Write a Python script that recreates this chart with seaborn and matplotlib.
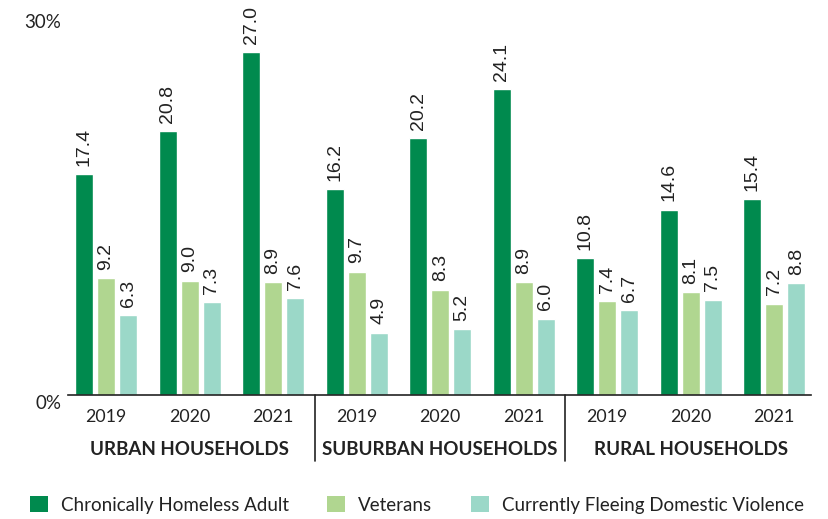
import pandas as pd
import numpy as np
import matplotlib.pyplot as plt
import seaborn as sns
from matplotlib.patches import Patch

# ── Datos ────────────────────────────────────────────────────
grupos = ["URBAN HOUSEHOLDS", "SUBURBAN HOUSEHOLDS", "RURAL HOUSEHOLDS"]
anios = ["2019", "2020", "2021"]
series = ["Chronically Homeless Adult", "Veterans", "Currently Fleeing Domestic Violence"]

cronicos = [17.4, 20.8, 27.0, 16.2, 20.2, 24.1, 10.8, 14.6, 15.4]
veteranos = [9.2, 9.0, 8.9, 9.7, 8.3, 8.9, 7.4, 8.1, 7.2]
violencia = [6.3, 7.3, 7.6, 4.9, 5.2, 6.0, 6.7, 7.5, 8.8]

colores = ["#008a4e", "#b0d690", "#9bd8c8"]

# ── Tabla larga para seaborn ─────────────────────────────────
categorias = [f"{g} {a}" for g in grupos for a in anios]
df = pd.DataFrame({
    "cat": categorias * 3,
    "serie": np.repeat(series, len(categorias)),
    "valor": cronicos + veteranos + violencia,
})

sns.set_theme(style="white")
plt.rcParams["font.family"] = ["Lato", "DejaVu Sans"]

fig = plt.figure(figsize=(8.29, 5.19), dpi=100)
ax = fig.add_axes([68 / 829, 124 / 519, 743 / 829, 381 / 519])

sns.barplot(data=df, x="cat", y="valor", hue="serie", order=categorias,
            hue_order=series, palette=colores, width=0.79, gap=0.18,
            saturation=1, legend=False, ax=ax)

for cont in ax.containers:
    ax.bar_label(cont, labels=[f"{v.get_height():.1f}" for v in cont],
                 rotation=90, padding=6, fontsize=14, color="#222222",
                 family="Liberation Sans")

ax.set_xlim(-0.455, 8.44)
ax.set_ylim(0, 30)
ax.set_yticks([0, 30])
ax.set_yticklabels(["0%", "30%"], fontsize=13.5, color="#222222")
for t in ax.get_yticklabels():
    t.set_verticalalignment("top")
ax.set_xticks(range(len(categorias)))
ax.set_xticklabels(anios * 3, fontsize=12.8, color="#222222")
ax.tick_params(axis="x", length=0, pad=10)
ax.tick_params(axis="y", length=0, pad=5)
ax.set_xlabel("")
ax.set_ylabel("")

for lado in ["left", "right", "top"]:
    ax.spines[lado].set_visible(False)
ax.spines["bottom"].set_color("#222222")
ax.spines["bottom"].set_linewidth(1.2)

# separadores y nombres de grupo
for xs in [2.5, 5.5]:
    ax.plot([xs, xs], [0, -0.173], color="#222222", lw=1.2,
            transform=ax.get_xaxis_transform(), clip_on=False)
for i, g in enumerate(grupos):
    ax.text(3 * i + 1, -0.142, g, transform=ax.get_xaxis_transform(),
            ha="center", va="center", fontsize=13.5, fontweight="bold",
            color="#222222")

# leyenda
handles = [Patch(facecolor=c, edgecolor="none") for c in colores]
fig.legend(handles, series, loc="center left", bbox_to_anchor=(30 / 829, 14 / 519),
           ncol=3, frameon=False, fontsize=13.5, handlelength=0.95,
           handleheight=0.95, handletextpad=0.7, columnspacing=2.05,
           borderaxespad=0, borderpad=0, labelcolor="#222222")

plt.savefig("out.png", dpi=100)
